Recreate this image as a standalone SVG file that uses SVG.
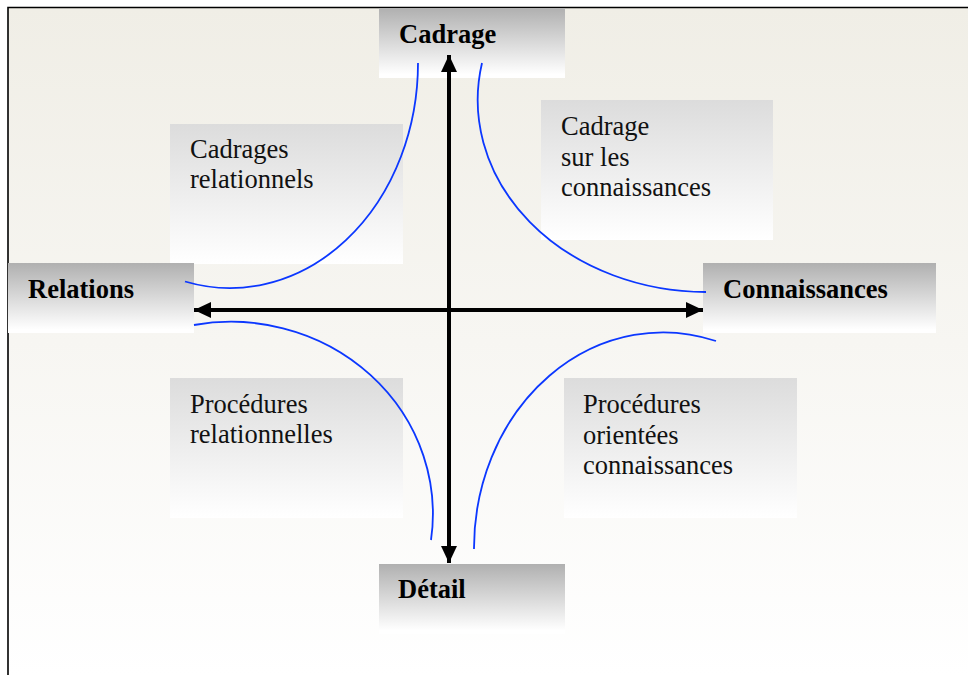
<svg xmlns="http://www.w3.org/2000/svg" width="968" height="675" viewBox="0 0 968 675">
  <defs>
    <linearGradient id="bg" x1="0" y1="0" x2="0" y2="1">
      <stop offset="0" stop-color="#f0eee6"/>
      <stop offset="0.5" stop-color="#f7f6f2"/>
      <stop offset="1" stop-color="#ffffff"/>
    </linearGradient>
    <linearGradient id="lab" x1="0" y1="0" x2="0" y2="1">
      <stop offset="0" stop-color="#b0b0b0"/>
      <stop offset="0.95" stop-color="#ffffff"/>
    </linearGradient>
    <linearGradient id="txt" x1="0" y1="0" x2="0" y2="1">
      <stop offset="0" stop-color="#dcdcdc"/>
      <stop offset="1" stop-color="#ffffff"/>
    </linearGradient>
    <marker id="ah" markerUnits="userSpaceOnUse" markerWidth="18" markerHeight="18" viewBox="0 0 18 18" refX="17" refY="9" orient="auto">
      <path d="M0,1 L17,9 L0,17 Z" fill="#000"/>
    </marker>
  </defs>
  <style>
    .lab { fill: url(#lab); }
    .txt { fill: url(#txt); }
    .bold { font-family: "Liberation Serif", "Times New Roman", serif; font-weight: bold; font-size: 26.5px; fill: #000; }
    .reg { font-family: "Liberation Serif", "Times New Roman", serif; font-size: 26.5px; fill: #111; }
    .curve { fill: none; stroke: #0b37ff; stroke-width: 1.8; }
    .axis { fill: none; stroke: #000; stroke-width: 4; marker-end: url(#ah); }
  </style>

  <rect x="0" y="0" width="968" height="675" fill="#ffffff"/>
  <rect x="8" y="8" width="960" height="667" fill="url(#bg)"/>
  <path d="M8,675 L8,7.5 L968,7.5" fill="none" stroke="#000" stroke-width="1.6"/>

  <g id="box-cadrages-relationnels">
    <rect class="txt" x="170" y="124" width="233" height="140"/>
    <text class="reg" x="190" y="158">Cadrages</text>
    <text class="reg" x="190" y="188">relationnels</text>
  </g>
  <g id="box-cadrage-connaissances">
    <rect class="txt" x="541" y="100" width="232" height="140"/>
    <text class="reg" x="561" y="135">Cadrage</text>
    <text class="reg" x="561" y="165.5">sur les</text>
    <text class="reg" x="561" y="196">connaissances</text>
  </g>
  <g id="box-procedures-relationnelles">
    <rect class="txt" x="170" y="378" width="233" height="140"/>
    <text class="reg" x="190" y="413">Procédures</text>
    <text class="reg" x="190" y="443">relationnelles</text>
  </g>
  <g id="box-procedures-connaissances">
    <rect class="txt" x="564" y="378" width="233" height="140"/>
    <text class="reg" x="583" y="413">Procédures</text>
    <text class="reg" x="583" y="443.5">orientées</text>
    <text class="reg" x="583" y="474">connaissances</text>
  </g>

  <g id="node-cadrage">
    <rect class="lab" x="379" y="8" width="186" height="70"/>
    <text class="bold" x="399" y="43">Cadrage</text>
  </g>
  <g id="node-relations">
    <rect class="lab" x="8" y="263" width="186" height="70"/>
    <text class="bold" x="28" y="298">Relations</text>
  </g>
  <g id="node-connaissances">
    <rect class="lab" x="703" y="263" width="233" height="70"/>
    <text class="bold" x="723" y="298">Connaissances</text>
  </g>
  <g id="node-detail">
    <rect class="lab" x="379" y="564" width="186" height="70"/>
    <text class="bold" x="398" y="598">Détail</text>
  </g>

  <g id="connectors">
    <path class="curve" d="M418,63 A188,225 0 0 1 185,281.5"/>
    <path class="curve" d="M482,63 A229,192 0 0 0 706,292"/>
    <path class="curve" d="M194,325 A202,192 0 0 1 431,540"/>
    <path class="curve" d="M716,341 A189,216 0 0 0 474,549"/>
    <line class="axis" x1="449" y1="310" x2="449" y2="55"/>
    <line class="axis" x1="449" y1="310" x2="449" y2="563"/>
    <line class="axis" x1="449" y1="310" x2="194" y2="310"/>
    <line class="axis" x1="449" y1="310" x2="703" y2="310"/>
  </g>
</svg>
